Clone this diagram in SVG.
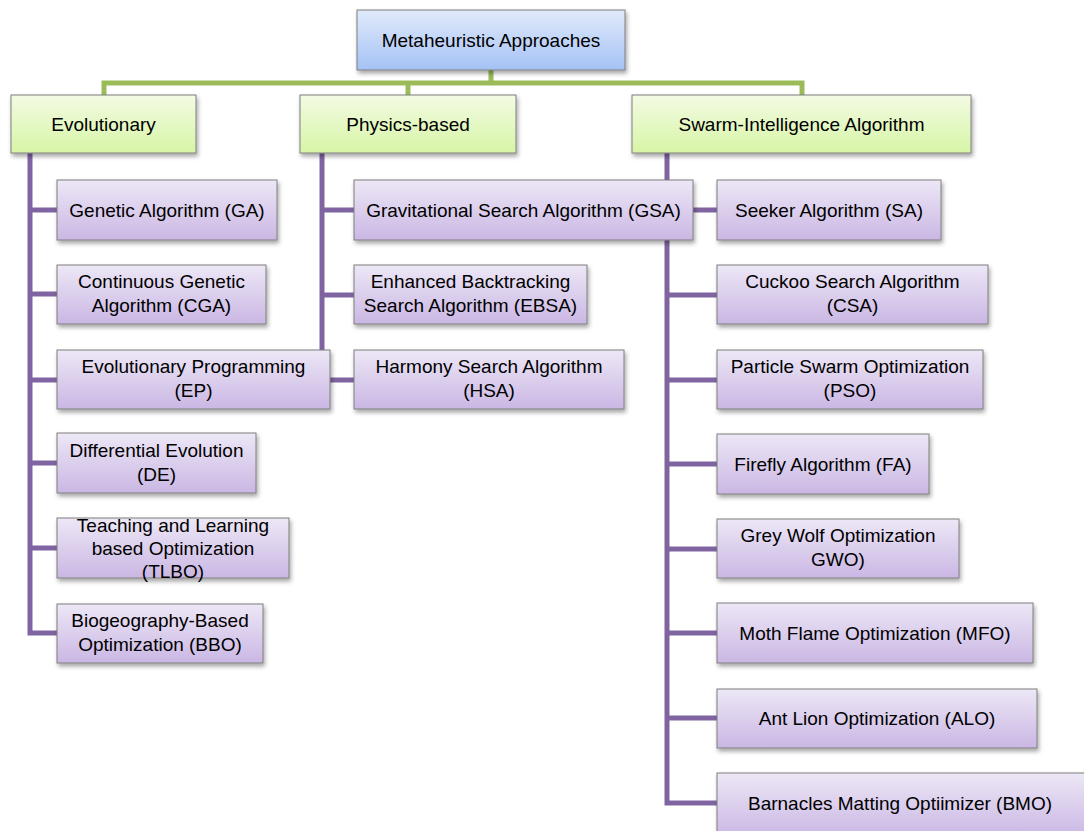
<svg xmlns="http://www.w3.org/2000/svg" width="1084" height="831" viewBox="0 0 1084 831">
<style>
.box{stroke:#7f7f7f;stroke-width:1;filter:url(#sh)}
.root{fill:url(#gBlue)}
.cat{fill:url(#gGreen)}
.leaf{fill:url(#gPurple)}
text{font-family:"Liberation Sans",Arial,sans-serif;font-size:19px;fill:#000;text-anchor:middle}
.green{fill:none;stroke:#9bbb59;stroke-width:5}
.purple{fill:none;stroke:#8064a2;stroke-width:5}
</style>
<defs>
<linearGradient id="gBlue" x1="0" y1="0" x2="0" y2="1"><stop offset="0" stop-color="#e1eafb"/><stop offset="1" stop-color="#a4c2f5"/></linearGradient>
<linearGradient id="gGreen" x1="0" y1="0" x2="0" y2="1"><stop offset="0" stop-color="#f3fbe3"/><stop offset="1" stop-color="#d7f5a6"/></linearGradient>
<linearGradient id="gPurple" x1="0" y1="0" x2="0" y2="1"><stop offset="0" stop-color="#ede7f6"/><stop offset="1" stop-color="#cab7e4"/></linearGradient>
<filter id="sh" x="-10%" y="-20%" width="120%" height="150%"><feDropShadow dx="1.5" dy="3" stdDeviation="2" flood-color="#000" flood-opacity="0.35"/></filter>
</defs>
<rect width="1084" height="831" fill="#fff"/>
<g id="connectors">
<path class="green" d="M104,95 V83 H802 V95 M491,70 V83 M408,83 V95"/>
<path class="purple" d="M30,153 V633 H57 M30,210 H57 M30,294 H57 M30,380 H57 M30,463 H57 M30,548 H57"/>
<path class="purple" d="M322,153 V380 H354 M322,210 H354 M322,295 H354"/>
<path class="purple" d="M667,153 V803 H717 M667,210 H717 M667,295 H717 M667,380 H717 M667,464 H717 M667,549 H717 M667,633 H717 M667,718 H717"/>
</g>
<g id="root"><rect class="box root" x="357" y="10" width="268" height="60"/><text x="491" y="46.5">Metaheuristic Approaches</text></g>
<g id="evolutionary"><rect class="box cat" x="11" y="95" width="185" height="58"/><text x="103.5" y="130.5">Evolutionary</text></g>
<g id="physics"><rect class="box cat" x="300" y="95" width="216" height="58"/><text x="408" y="130.5">Physics-based</text></g>
<g id="swarm"><rect class="box cat" x="632" y="95" width="339" height="58"/><text x="801.5" y="130.5">Swarm-Intelligence Algorithm</text></g>

<g id="ga"><rect class="box leaf" x="57" y="180" width="220" height="60"/><text x="167" y="216.5">Genetic Algorithm (GA)</text></g>
<g id="cga"><rect class="box leaf" x="57" y="265" width="209" height="59"/><text x="161.5" y="288">Continuous Genetic</text><text x="161.5" y="312">Algorithm (CGA)</text></g>
<g id="ep"><rect class="box leaf" x="57" y="350" width="273" height="59"/><text x="193.5" y="373">Evolutionary Programming</text><text x="193.5" y="397">(EP)</text></g>
<g id="de"><rect class="box leaf" x="57" y="433" width="199" height="60"/><text x="156.5" y="457">Differential Evolution</text><text x="156.5" y="481">(DE)</text></g>
<g id="tlbo"><rect class="box leaf" x="57" y="518" width="232" height="60"/><text x="173" y="532">Teaching and Learning</text><text x="173" y="555">based Optimization</text><text x="173" y="578">(TLBO)</text></g>
<g id="bbo"><rect class="box leaf" x="57" y="604" width="206" height="59"/><text x="160" y="627">Biogeography-Based</text><text x="160" y="651">Optimization (BBO)</text></g>

<g id="gsa"><rect class="box leaf" x="354" y="180" width="339" height="60"/><text x="523.5" y="216.5">Gravitational Search Algorithm (GSA)</text></g>
<g id="ebsa"><rect class="box leaf" x="354" y="265" width="233" height="59"/><text x="470.5" y="288">Enhanced Backtracking</text><text x="470.5" y="312">Search Algorithm (EBSA)</text></g>
<g id="hsa"><rect class="box leaf" x="354" y="350" width="270" height="59"/><text x="489" y="373">Harmony Search Algorithm</text><text x="489" y="397">(HSA)</text></g>

<g id="sa"><rect class="box leaf" x="717" y="180" width="224" height="60"/><text x="829" y="216.5">Seeker Algorithm (SA)</text></g>
<g id="csa"><rect class="box leaf" x="717" y="265" width="271" height="59"/><text x="852.5" y="288">Cuckoo Search Algorithm</text><text x="852.5" y="312">(CSA)</text></g>
<g id="pso"><rect class="box leaf" x="717" y="350" width="266" height="59"/><text x="850" y="373">Particle Swarm Optimization</text><text x="850" y="397">(PSO)</text></g>
<g id="fa"><rect class="box leaf" x="717" y="434" width="212" height="60"/><text x="823" y="470.5">Firefly Algorithm (FA)</text></g>
<g id="gwo"><rect class="box leaf" x="717" y="519" width="242" height="59"/><text x="838" y="542">Grey Wolf Optimization</text><text x="838" y="566">GWO)</text></g>
<g id="mfo"><rect class="box leaf" x="717" y="603" width="316" height="60"/><text x="875" y="639.5">Moth Flame Optimization (MFO)</text></g>
<g id="alo"><rect class="box leaf" x="717" y="689" width="320" height="59"/><text x="877" y="725">Ant Lion Optimization (ALO)</text></g>
<g id="bmo"><rect class="box leaf" x="717" y="773" width="370" height="64"/><text x="900" y="809.5">Barnacles Matting Optiimizer (BMO)</text></g>
</svg>
